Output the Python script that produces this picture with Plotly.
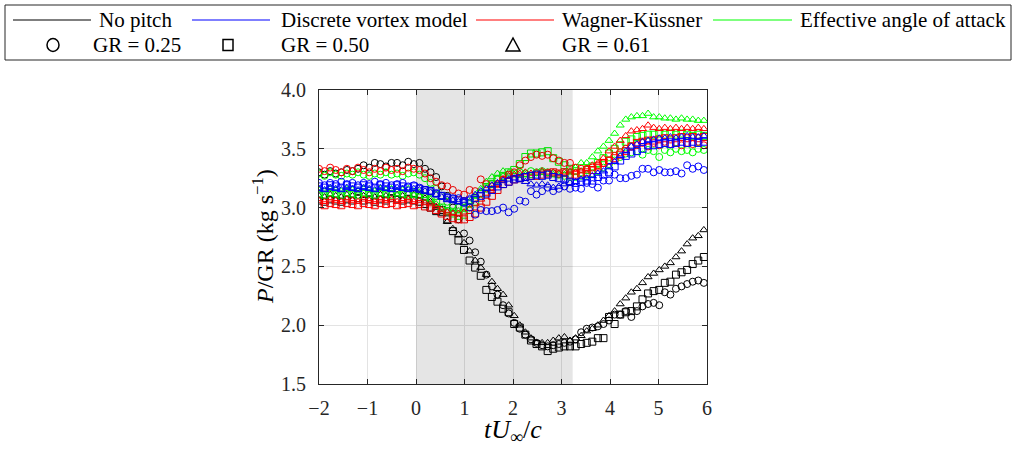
import numpy as np
import plotly.graph_objects as go

# ---- data -------------------------------------------------------------
x_vals = np.round(-2 + 0.115 * np.arange(70), 3)
shade_start, shade_end = 0.0, 3.23

np_025 = [3.30, 3.28, 3.31, 3.29, 3.30, 3.32, 3.31, 3.33, 3.36, 3.34,
          3.38, 3.37, 3.35, 3.38, 3.38, 3.36, 3.39, 3.37, 3.38, 3.33,
          3.30, 3.26, 3.18, 3.10, 3.00, 2.90, 2.78, 2.72, 2.62, 2.54,
          2.43, 2.33, 2.26, 2.17, 2.10, 2.02, 1.97, 1.92, 1.88, 1.85,
          1.83, 1.82, 1.83, 1.84, 1.85, 1.86, 1.88, 1.94, 1.97, 1.98,
          1.99, 2.01, 2.04, 2.09, 2.09, 2.12, 2.07, 2.12, 2.16, 2.18,
          2.19, 2.17, 2.28, 2.26, 2.31, 2.33, 2.35, 2.37, 2.38, 2.36]
np_050 = [3.06, 3.05, 3.07, 3.06, 3.05, 3.07, 3.06, 3.08, 3.06, 3.07,
          3.05, 3.07, 3.06, 3.08, 3.07, 3.06, 3.07, 3.06, 3.05, 3.03,
          3.00, 2.97, 2.98, 2.90, 2.80, 2.72, 2.64, 2.55, 2.49, 2.42,
          2.30, 2.24, 2.20, 2.14, 2.11, 2.01, 1.98, 1.92, 1.87, 1.84,
          1.82, 1.78, 1.80, 1.81, 1.82, 1.82, 1.82, 1.84, 1.85, 1.86,
          1.89, 1.89, 2.07, 2.01, 2.09, 2.11, 2.12, 2.16, 2.22, 2.27,
          2.29, 2.30, 2.36, 2.37, 2.43, 2.45, 2.47, 2.52, 2.55, 2.58]
np_061 = [3.10, 3.09, 3.11, 3.10, 3.09, 3.11, 3.10, 3.12, 3.10, 3.11,
          3.09, 3.11, 3.10, 3.12, 3.11, 3.10, 3.12, 3.11, 3.10, 3.08,
          3.05, 3.00, 2.95, 2.88, 2.82, 2.77, 2.70, 2.63, 2.55, 2.49,
          2.43, 2.37, 2.31, 2.26, 2.17, 2.08, 2.00, 1.94, 1.89, 1.85,
          1.85, 1.85, 1.87, 1.89, 1.90, 1.87, 1.89, 1.91, 1.95, 1.97,
          2.00, 2.04, 2.08, 2.12, 2.18, 2.23, 2.28, 2.31, 2.36, 2.41,
          2.44, 2.47, 2.50, 2.53, 2.58, 2.63, 2.69, 2.74, 2.76, 2.81]

dvm_025 = [3.21, 3.19, 3.21, 3.20, 3.22, 3.20, 3.21, 3.19, 3.21, 3.20,
           3.22, 3.20, 3.21, 3.19, 3.20, 3.21, 3.18, 3.19, 3.17, 3.15,
           3.14, 3.12, 3.10, 3.09, 3.08, 3.08, 3.04, 3.00, 2.94, 2.98,
           2.97, 2.97, 2.98, 3.00, 2.96, 2.99, 3.06, 3.05, 3.14, 3.11,
           3.14, 3.17, 3.14, 3.16, 3.18, 3.16, 3.17, 3.16, 3.21, 3.20,
           3.17, 3.23, 3.23, 3.28, 3.25, 3.25, 3.27, 3.28, 3.33, 3.33,
           3.30, 3.32, 3.30, 3.30, 3.31, 3.29, 3.36, 3.33, 3.35, 3.32]
dvm_050 = [3.18, 3.17, 3.19, 3.18, 3.17, 3.19, 3.18, 3.17, 3.19, 3.18,
           3.17, 3.19, 3.18, 3.17, 3.19, 3.18, 3.17, 3.18, 3.16, 3.15,
           3.14, 3.12, 3.10, 3.08, 3.07, 3.06, 3.05, 3.06, 3.08, 3.10,
           3.12, 3.15, 3.18, 3.20, 3.22, 3.24, 3.25, 3.26, 3.27, 3.28,
           3.27, 3.28, 3.26, 3.25, 3.24, 3.22, 3.21, 3.22, 3.23, 3.23,
           3.26, 3.28, 3.30, 3.35, 3.40, 3.44, 3.46, 3.48, 3.50, 3.53,
           3.53, 3.54, 3.55, 3.54, 3.55, 3.56, 3.55, 3.56, 3.55, 3.56]
dvm_061 = [3.16, 3.15, 3.17, 3.16, 3.15, 3.17, 3.16, 3.15, 3.17, 3.16,
           3.15, 3.17, 3.16, 3.15, 3.17, 3.16, 3.15, 3.16, 3.15, 3.14,
           3.13, 3.11, 3.09, 3.07, 3.06, 3.05, 3.06, 3.08, 3.11, 3.14,
           3.16, 3.19, 3.21, 3.23, 3.24, 3.25, 3.24, 3.22, 3.20, 3.19,
           3.20, 3.19, 3.17, 3.18, 3.20, 3.21, 3.22, 3.24, 3.25, 3.27,
           3.29, 3.31, 3.35, 3.39, 3.44, 3.48, 3.52, 3.54, 3.56, 3.57,
           3.58, 3.59, 3.59, 3.60, 3.59, 3.60, 3.61, 3.60, 3.60, 3.61]

wk_025 = [3.33, 3.31, 3.34, 3.32, 3.30, 3.33, 3.31, 3.34, 3.32, 3.30,
          3.33, 3.31, 3.34, 3.32, 3.33, 3.31, 3.34, 3.33, 3.32, 3.29,
          3.25, 3.22, 3.19, 3.18, 3.15, 3.12, 3.11, 3.15, 3.14, 3.24,
          3.20, 3.18, 3.20, 3.24, 3.28, 3.30, 3.36, 3.40, 3.43, 3.45,
          3.44, 3.45, 3.42, 3.40, 3.38, 3.38, 3.34, 3.33, 3.33, 3.34,
          3.36, 3.38, 3.40, 3.44, 3.47, 3.50, 3.52, 3.53, 3.55, 3.52,
          3.55, 3.53, 3.56, 3.54, 3.55, 3.53, 3.55, 3.54, 3.56, 3.53]
wk_050 = [3.03, 3.02, 3.04, 3.03, 3.02, 3.04, 3.03, 3.02, 3.04, 3.03,
          3.02, 3.04, 3.03, 3.04, 3.02, 3.03, 3.04, 3.02, 3.03, 3.01,
          3.00, 2.98, 2.95, 2.93, 2.91, 2.90, 2.90, 2.92, 2.95, 3.00,
          3.05, 3.10, 3.15, 3.20, 3.22, 3.24, 3.25, 3.26, 3.27, 3.27,
          3.28, 3.29, 3.30, 3.29, 3.30, 3.28, 3.28, 3.29, 3.30, 3.32,
          3.35, 3.38, 3.40, 3.42, 3.45, 3.48, 3.52, 3.55, 3.56, 3.57,
          3.57, 3.58, 3.59, 3.58, 3.59, 3.60, 3.59, 3.60, 3.59, 3.60]
wk_061 = [3.06, 3.05, 3.07, 3.06, 3.05, 3.07, 3.06, 3.05, 3.07, 3.06,
          3.05, 3.07, 3.06, 3.07, 3.05, 3.06, 3.07, 3.05, 3.06, 3.04,
          3.03, 3.01, 2.98, 2.96, 2.95, 2.95, 2.96, 2.99, 3.03, 3.07,
          3.12, 3.16, 3.20, 3.24, 3.27, 3.28, 3.29, 3.30, 3.29, 3.30,
          3.31, 3.30, 3.30, 3.29, 3.30, 3.31, 3.30, 3.31, 3.33, 3.36,
          3.38, 3.42, 3.48, 3.52, 3.57, 3.61, 3.65, 3.66, 3.67, 3.70,
          3.68, 3.67, 3.68, 3.67, 3.68, 3.67, 3.68, 3.67, 3.68, 3.67]

ea_025 = [3.29, 3.27, 3.30, 3.28, 3.27, 3.29, 3.28, 3.30, 3.28, 3.27,
          3.29, 3.28, 3.30, 3.28, 3.29, 3.27, 3.29, 3.30, 3.28, 3.25,
          3.21, 3.16, 3.10, 3.05, 3.02, 3.00, 3.00, 3.03, 3.08, 3.12,
          3.16, 3.20, 3.24, 3.26, 3.28, 3.29, 3.30, 3.29, 3.31, 3.30,
          3.31, 3.30, 3.29, 3.28, 3.27, 3.26, 3.26, 3.27, 3.28, 3.29,
          3.31, 3.34, 3.37, 3.40, 3.43, 3.46, 3.47, 3.48, 3.45, 3.49,
          3.48, 3.43, 3.49, 3.47, 3.50, 3.48, 3.49, 3.47, 3.50, 3.49]
ea_050 = [3.12, 3.11, 3.13, 3.12, 3.11, 3.13, 3.12, 3.11, 3.13, 3.12,
          3.11, 3.13, 3.12, 3.11, 3.13, 3.12, 3.11, 3.12, 3.11, 3.09,
          3.07, 3.04, 3.00, 2.97, 2.95, 2.93, 2.94, 2.98, 3.05, 3.12,
          3.17, 3.20, 3.24, 3.27, 3.30, 3.32, 3.37, 3.43, 3.46, 3.46,
          3.47, 3.48, 3.42, 3.39, 3.36, 3.33, 3.31, 3.30, 3.32, 3.35,
          3.38, 3.42, 3.46, 3.50, 3.53, 3.56, 3.58, 3.60, 3.61, 3.62,
          3.62, 3.63, 3.62, 3.63, 3.62, 3.63, 3.62, 3.61, 3.62, 3.61]
ea_061 = [3.15, 3.14, 3.16, 3.15, 3.14, 3.16, 3.15, 3.14, 3.16, 3.15,
          3.14, 3.16, 3.15, 3.16, 3.14, 3.15, 3.16, 3.14, 3.13, 3.10,
          3.07, 3.03, 3.00, 2.97, 2.96, 2.97, 3.00, 3.05, 3.10, 3.16,
          3.22, 3.26, 3.29, 3.31, 3.30, 3.28, 3.27, 3.28, 3.27, 3.29,
          3.30, 3.29, 3.28, 3.27, 3.28, 3.30, 3.34, 3.38, 3.38, 3.43,
          3.48, 3.52, 3.57, 3.63, 3.70, 3.75, 3.77, 3.78, 3.78, 3.80,
          3.77, 3.77, 3.76, 3.76, 3.75, 3.76, 3.75, 3.75, 3.74, 3.74]

model_names = ["No pitch", "Discrete vortex model", "Wagner-Küssner",
               "Effective angle of attack"]
model_colors = ["#000000", "#0000ff", "#ff0000", "#00ff00"]
gr_labels = ["GR = 0.25", "GR = 0.50", "GR = 0.61"]
gr_symbols = ["circle-open", "square-open", "triangle-up-open"]

series = {
    "No pitch": [np_025, np_050, np_061],
    "Discrete vortex model": [dvm_025, dvm_050, dvm_061],
    "Wagner-Küssner": [wk_025, wk_050, wk_061],
    "Effective angle of attack": [ea_025, ea_050, ea_061],
}

FONT = "Liberation Serif"
W, H = 1016, 449
L, R, T, B = 319, 707, 90, 384   # plot area in pixels

fig = go.Figure()
draw_order = ["No pitch", "Effective angle of attack", "Wagner-Küssner",
              "Discrete vortex model"]
for name in draw_order:
    col = model_colors[model_names.index(name)]
    for k, vals in enumerate(series[name]):
        fig.add_trace(go.Scatter(
            x=x_vals, y=vals, mode="markers", showlegend=False,
            name=f"{name}, {gr_labels[k]}",
            marker=dict(symbol=gr_symbols[k], size=7, color=col,
                        line=dict(width=1, color=col)),
        ))

# shaded interval (drawn over markers, semi-transparent)
fig.add_shape(type="rect", xref="x", yref="y", x0=shade_start, x1=shade_end,
              y0=1.5, y1=4.0, fillcolor="rgba(0,0,0,0.10)",
              line=dict(width=0), layer="above")


def PX(px):
    return (px - L) / (R - L)


def PY(py):
    return (B - py) / (B - T)


# ---- manual legend -----------------------------------------------------
fig.add_shape(type="rect", xref="paper", yref="paper",
              x0=PX(5), x1=PX(1011), y0=PY(60), y1=PY(5),
              line=dict(color="#262626", width=1), fillcolor="white",
              layer="below")
row1, row2 = 20, 45
line_pos = [(13, 91, 97), (192, 270, 279), (476, 554, 560), (713, 792, 798)]
for (a, b, tx), name, col in zip(line_pos, model_names, model_colors):
    fig.add_shape(type="line", xref="paper", yref="paper",
                  x0=PX(a), x1=PX(b), y0=PY(row1), y1=PY(row1),
                  line=dict(color=col, width=1.2))
    fig.add_annotation(xref="paper", yref="paper", x=PX(tx), y=PY(row1),
                       text=name, showarrow=False, xanchor="left",
                       yanchor="middle", font=dict(family=FONT, size=21,
                                                   color="black"))
mk_pos = [(53, 91), (228, 279), (513, 560)]
for k, (cx, tx) in enumerate(mk_pos):
    if k == 0:
        fig.add_shape(type="circle", xref="paper", yref="paper",
                      xsizemode="pixel", ysizemode="pixel",
                      xanchor=PX(cx), yanchor=PY(row2),
                      x0=-6, x1=6, y0=-6.5, y1=6.5,
                      line=dict(color="black", width=1.5))
    elif k == 1:
        fig.add_shape(type="rect", xref="paper", yref="paper",
                      xsizemode="pixel", ysizemode="pixel",
                      xanchor=PX(cx), yanchor=PY(row2),
                      x0=-5, x1=5, y0=-5.5, y1=5.5,
                      line=dict(color="black", width=1.5))
    else:
        fig.add_shape(type="path", xref="paper", yref="paper",
                      xsizemode="pixel", ysizemode="pixel",
                      xanchor=PX(cx), yanchor=PY(row2),
                      path="M -7 -6 L 7 -6 L 0 7 Z",
                      line=dict(color="black", width=1.5))
    fig.add_annotation(xref="paper", yref="paper", x=PX(tx), y=PY(row2),
                       text=gr_labels[k], showarrow=False, xanchor="left",
                       yanchor="middle", font=dict(family=FONT, size=21,
                                                   color="black"))

# ---- axes titles --------------------------------------------------------
fig.add_annotation(xref="paper", yref="paper", x=PX(513), y=PY(431),
                   text="<i>tU</i><sub>∞</sub>/<i>c</i>", showarrow=False,
                   xanchor="center", yanchor="middle",
                   font=dict(family=FONT, size=26, color="black"))
fig.add_annotation(xref="paper", yref="paper", x=PX(263), y=PY(237),
                   text="<i>P</i>/GR (kg s<sup>−1</sup>)", showarrow=False,
                   textangle=-90, xanchor="center", yanchor="middle",
                   font=dict(family=FONT, size=24, color="black"))

axis_common = dict(showline=True, linecolor="#262626", linewidth=1,
                   mirror="ticks", ticks="inside", ticklen=5,
                   tickcolor="#262626", showgrid=True, gridcolor="#e3e3e3",
                   gridwidth=1, zeroline=False,
                   tickfont=dict(family=FONT, size=20, color="#262626"))
fig.update_xaxes(range=[-2, 6], tickvals=list(range(-2, 7)),
                 ticklabelstandoff=6, **axis_common)
fig.update_yaxes(range=[1.5, 4.0], tickvals=[1.5, 2.0, 2.5, 3.0, 3.5, 4.0],
                 tickformat=".1f", ticklabelstandoff=8, **axis_common)

fig.update_layout(width=W, height=H, autosize=False,
                  margin=dict(l=L, r=W - R, t=T, b=H - B, pad=0),
                  plot_bgcolor="white", paper_bgcolor="white",
                  showlegend=False, font=dict(family=FONT))

fig.write_html("out.html")
